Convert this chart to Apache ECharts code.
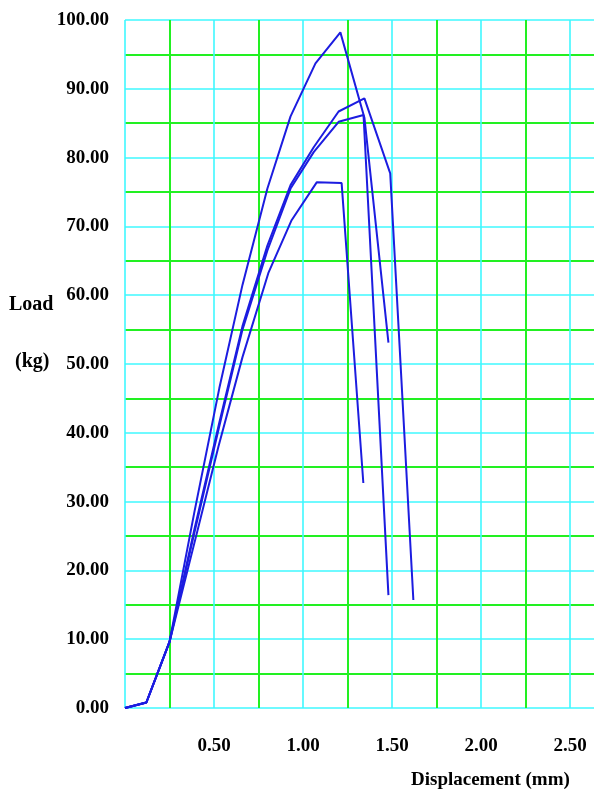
<!DOCTYPE html>
<html>
<head>
<meta charset="utf-8">
<script src="https://cdn.jsdelivr.net/npm/echarts@6/dist/echarts.min.js"></script>
<style>
html,body{margin:0;padding:0;background:#fff;}
#chart{width:594px;height:798px;}
</style>
</head>
<body>
<div id="chart"></div>
<script>
// Displacement (mm) and Load (kg) for four specimens
var dispA = [0, 0.12, 0.25, 0.39, 0.53, 0.66, 0.80, 0.93, 1.07, 1.21, 1.345, 1.48];
var loadA = [0, 0.8, 9.6, 28.5, 46.5, 61.5, 75.5, 86.0, 93.7, 98.2, 85.8, 53.1];

var dispB = [0, 0.12, 0.25, 0.39, 0.53, 0.66, 0.80, 0.93, 1.06, 1.20, 1.345, 1.49, 1.62];
var loadB = [0, 0.8, 9.6, 26.0, 41.5, 55.5, 67.2, 76.0, 81.5, 86.7, 88.6, 77.7, 15.7];

var dispC = [0, 0.12, 0.25, 0.39, 0.53, 0.66, 0.80, 0.93, 1.06, 1.20, 1.34, 1.48];
var loadC = [0, 0.8, 9.6, 25.5, 41.0, 55.0, 66.5, 75.5, 80.8, 85.2, 86.2, 16.4];

var dispD = [0, 0.12, 0.25, 0.39, 0.525, 0.66, 0.805, 0.936, 1.077, 1.217, 1.339];
var loadD = [0, 0.8, 9.6, 24.0, 38.0, 51.0, 63.2, 70.9, 76.4, 76.3, 32.7];

var xTitle = 'Displacement (mm)';
var yTitleTop = 'Load';
var yTitleBottom = '(kg)';

function pairs(xs, ys) {
  return xs.map(function (x, i) { return [x, ys[i]]; });
}

var CYAN = '#3ff8ff';
var GREEN = '#22f022';
var BLUE = '#1c1ce0';
var FONT = 'Liberation Serif';

function lineSeries(name, xs, ys) {
  return {
    name: name,
    type: 'line',
    data: pairs(xs, ys),
    showSymbol: false,
    symbol: 'none',
    lineStyle: { color: BLUE, width: 2 },
    itemStyle: { color: BLUE },
    z: 5
  };
}

var chart = echarts.init(document.getElementById('chart'), null, { renderer: 'canvas' });
chart.setOption({
  animation: false,
  backgroundColor: '#ffffff',
  grid: { left: 125, top: 20, width: 534, height: 688, containLabel: false, outerBoundsMode: 'none' },
  xAxis: {
    type: 'value',
    min: 0,
    max: 3,
    interval: 0.5,
    axisLine: { show: false },
    axisTick: { show: false },
    axisLabel: {
      margin: 29,
      fontFamily: FONT,
      fontWeight: 'bold',
      fontSize: 19,
      color: '#000',
      formatter: function (v) { return (v === 0 || v >= 3) ? '' : v.toFixed(2); }
    },
    splitLine: { show: true, lineStyle: { color: CYAN, width: 1.6 } },
    minorTick: { show: false, splitNumber: 2 },
    minorSplitLine: { show: true, lineStyle: { color: GREEN, width: 2 } }
  },
  yAxis: {
    type: 'value',
    min: 0,
    max: 100,
    interval: 10,
    axisLine: { show: false },
    axisTick: { show: false },
    axisLabel: {
      margin: 16,
      fontFamily: FONT,
      fontWeight: 'bold',
      fontSize: 19,
      color: '#000',
      formatter: function (v) { return v.toFixed(2); }
    },
    splitLine: { show: true, lineStyle: { color: CYAN, width: 1.6 } },
    minorTick: { show: false, splitNumber: 2 },
    minorSplitLine: { show: true, lineStyle: { color: GREEN, width: 2 } }
  },
  graphic: [
    { type: 'text', left: 411, top: 771, style: { text: xTitle, font: 'bold 19px "Liberation Serif"', fill: '#000' } },
    { type: 'text', left: 9, top: 295, style: { text: yTitleTop, font: 'bold 20px "Liberation Serif"', fill: '#000' } },
    { type: 'text', left: 15, top: 352, style: { text: yTitleBottom, font: 'bold 20px "Liberation Serif"', fill: '#000' } }
  ],
  series: [
    lineSeries('A', dispA, loadA),
    lineSeries('B', dispB, loadB),
    lineSeries('C', dispC, loadC),
    lineSeries('D', dispD, loadD)
  ]
});
</script>
</body>
</html>
